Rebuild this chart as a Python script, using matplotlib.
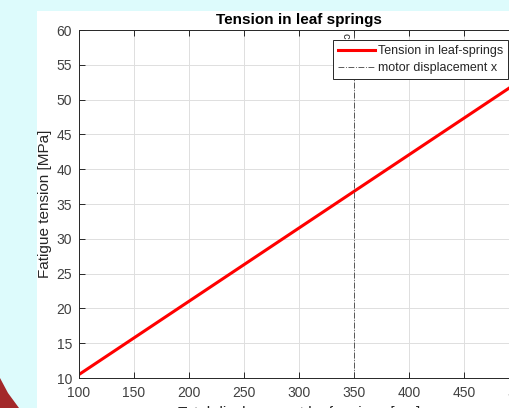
import numpy as np
import matplotlib
matplotlib.use("Agg")
import matplotlib.pyplot as plt
from matplotlib.patches import Rectangle, Polygon

plt.rcParams['font.family'] = ['Liberation Sans', 'DejaVu Sans']

# data
displacement = [100, 500]        # um
tension = [10.5, 52.6]           # MPa
motor_x = 350
x_ticks = [100, 150, 200, 250, 300, 350, 400, 450, 500]
y_ticks = [10, 15, 20, 25, 30, 35, 40, 45, 50, 55, 60]

W, H = 510, 408
fig = plt.figure(figsize=(W / 100, H / 100), dpi=100)
fig.patch.set_facecolor('#ddfbfc')

# white figure panel (screenshot of the plot window)
fig.patches.append(Rectangle((37 / W, 0), 1, 1 - 11 / H, transform=fig.transFigure,
                             facecolor='white', edgecolor='none', zorder=-5))
# dark red slide decoration bottom left
fig.patches.append(Polygon([(0, 0), (0, 30 / H), (8 / W, 15 / H), (19 / W, 0)],
                           closed=True, transform=fig.transFigure,
                           facecolor='#a3282a', edgecolor='none', zorder=-5))

ax = fig.add_axes([79 / W, (H - 378) / H, 440 / W, 348 / H])
ax.set_facecolor('white')

ax.plot(displacement, tension, color='#ff0000', lw=2.2, label='Tension in leaf-springs')
ax.axvline(motor_x, color='#404040', lw=0.6, ls=(0, (7, 2, 1, 2)), label='motor displacement x')
ax.text(motor_x - 7.5, 59.6, 'c', rotation=270, fontsize=8, color='#262626',
        ha='center', va='top')

ax.set_xlim(100, 500)
ax.set_ylim(10, 60)
ax.set_xticks(x_ticks)
ax.set_yticks(y_ticks)
ax.grid(True, color='#dedede', lw=0.7)
ax.set_axisbelow(True)
ax.tick_params(direction='in', top=True, right=True, length=4, width=0.7,
               colors='#262626', labelcolor='#404040', labelsize=10)
ax.tick_params(axis='x', pad=6)
ax.tick_params(axis='y', pad=5)
for s in ax.spines.values():
    s.set_color('#262626')
    s.set_linewidth(0.7)

ax.set_title('Tension in leaf springs', fontsize=11, fontweight='bold', color='black', pad=4)
ax.set_xlabel('Total displacement leaf springs [µm]', fontsize=11, color='#262626', labelpad=4)
ax.set_ylabel('Fatigue tension [MPa]', fontsize=11, color='#262626', labelpad=3)

leg = ax.legend(loc='upper right', bbox_to_anchor=(508 / W, 1 - 40 / H),
                bbox_transform=fig.transFigure, borderaxespad=0, fontsize=9,
                handlelength=2.9, handletextpad=0.25, labelspacing=0.4,
                borderpad=0.4, fancybox=False, framealpha=1)
leg.get_frame().set_edgecolor('#262626')
leg.get_frame().set_linewidth(0.7)
for t in leg.get_texts():
    t.set_color('#262626')

fig.savefig('out.png', dpi=100, facecolor=fig.get_facecolor())
